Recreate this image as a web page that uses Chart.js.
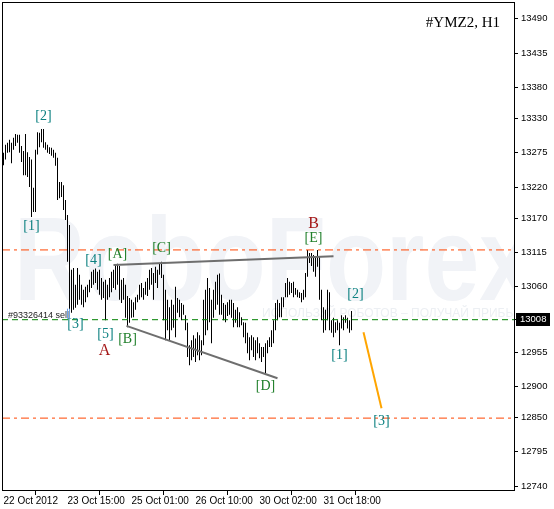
<!DOCTYPE html>
<html lang="en">
<head>
<meta charset="UTF-8" />
<title>#YMZ2, H1</title>
<script src="https://cdn.jsdelivr.net/npm/chart.js"></script>
<style>
  html, body { margin: 0; padding: 0; background: #fff; }
</style>
</head>
<body>
<canvas id="chart" width="554" height="509"></canvas>
<script>
  // H1 bars, one per hour (high / low)
  const highs = [
    13275, 13288, 13291, 13296, 13291, 13299, 13305, 13304, 13304, 13286,
    13278, 13305, 13276, 13268, 13264, 13219, 13280, 13308, 13307, 13313,
    13313, 13292, 13288, 13284, 13283, 13280, 13275, 13267, 13228, 13228,
    13223, 13199, 13175, 13159, 13087, 13090, 13063, 13090, 13079, 13063,
    13055, 13060, 13063, 13071, 13084, 13087, 13089, 13084, 13087, 13074,
    13068, 13071, 13063, 13074, 13084, 13087, 13095, 13097, 13093, 13071,
    13074, 13063, 13045, 13042, 13039, 13035, 13043, 13047, 13063, 13066,
    13058, 13068, 13074, 13087, 13090, 13082, 13092, 13087, 13098, 13100,
    13079, 13055, 13039, 13027, 13039, 13031, 13060, 13042, 13039, 13034,
    13031, 13014, 13002, 12966, 12974, 12982, 12977, 12987, 12982, 12974,
    13039, 13055, 13074, 13058, 13039, 13055, 13068, 13079, 13081, 13047,
    13034, 13031, 13035, 13039, 13039, 13034, 13023, 13027, 13019, 13011,
    13003, 13002, 12986, 12979, 12982, 12979, 12974, 12979, 12969, 12963,
    12963, 12969, 12974, 12979, 12990, 13006, 13034, 13039, 13034, 13043,
    13043, 13066, 13074, 13068, 13066, 13068, 13058, 13055, 13051, 13050,
    13055, 13082, 13119, 13114, 13114, 13111, 13108, 13119, 13108, 13055,
    13027, 13023, 13055, 13051, 13006, 13010, 13003, 13006, 13002, 13014,
    13011, 13014, 13010, 13006, 13021
  ];
  const lows = [
    13255, 13264, 13275, 13276, 13258, 13280, 13286, 13291, 13275, 13260,
    13239, 13239, 13236, 13220, 13172, 13180, 13180, 13272, 13284, 13292,
    13283, 13280, 13275, 13273, 13270, 13267, 13254, 13199, 13202, 13204,
    13183, 13167, 13100, 13020, 13018, 13023, 13026, 13031, 13039, 13031,
    13027, 13035, 13043, 13051, 13058, 13063, 13066, 13055, 13047, 13039,
    13042, 13006, 13039, 13043, 13051, 13058, 13055, 13063, 13039, 13034,
    13039, 13010, 12995, 13002, 13010, 13011, 13023, 13035, 13039, 13043,
    13039, 13047, 13045, 13055, 13063, 13039, 13066, 13058, 13079, 13074,
    13006, 12974, 12990, 12974, 12990, 12994, 12979, 13018, 13011, 13006,
    13015, 12990, 12947, 12934, 12942, 12947, 12939, 12950, 12942, 12950,
    12966, 12982, 12990, 13003, 12969, 13010, 13023, 13031, 13015, 13015,
    13006, 13003, 13013, 13015, 13010, 12995, 13002, 12995, 12995, 12998,
    12979, 12969, 12953, 12942, 12958, 12947, 12942, 12953, 12945, 12939,
    12947, 12921, 12953, 12963, 12963, 12969, 12990, 13006, 13011, 13011,
    13027, 13043, 13043, 13047, 13050, 13043, 13047, 13043, 13042, 13035,
    13039, 13043, 13076, 13098, 13093, 13084, 13076, 13092, 13039, 13006,
    12986, 12990, 13006, 12990, 12986, 12979, 12986, 12990, 12966, 12993,
    12990, 13002, 12993, 12986, 12990
  ];

  const timeTicks = [0, 32, 64, 96, 128, 160];
  const timeLabels = ['22 Oct 2012', '23 Oct 15:00', '25 Oct 01:00', '26 Oct 10:00', '30 Oct 02:00', '31 Oct 18:00'];
  const priceTicks = [13490, 13435, 13380, 13330, 13275, 13220, 13170, 13115, 13060, 13008, 12955, 12900, 12850, 12795, 12740];

  const lastPrice = 13008;
  const orderPrice = 13007;
  const targetLevels = [13119, 12849];
  // [bar, price] end points of the drawn lines
  const triangleTop = [[55, 13095], [165, 13109]];
  const triangleBottom = [[61.5, 12997], [137, 12913]];
  const forecast = [[180, 12987], [189, 12865]];

  const waveText  = ['[2]', '[1]', '[3]', '[4]', '[A]', '[C]', '[5]', 'A', '[B]', '[D]', 'B', '[E]', '[2]', '[1]', '[3]'];
  const waveBar   = [20, 14, 36, 45, 57, 79, 51, 50.5, 62, 131, 155, 155, 176, 168, 189];
  const wavePrice = [13334, 13157, 13000, 13103, 13112, 13121, 12984, 12957, 12976, 12900, 13161, 13137, 13047, 12950, 12844];

  const xMin = -0.75, xMax = 255.25;
  const sans = '"Liberation Sans", Arial, sans-serif';
  const serif = '"Liberation Serif", "Times New Roman", serif';

  function waveColor(t) {
    if (t === 'A' || t === 'B') return '#a31515';
    return /\d/.test(t) ? '#0c8080' : '#1f7f2a';
  }

  const hline = (v, color, dash) => ({
    type: 'line', data: [{x: xMin, y: v}, {x: xMax, y: v}],
    borderColor: color, borderWidth: 1, borderDash: dash, pointRadius: 0, fill: false, order: 0
  });
  const seg = (pts, color) => ({
    type: 'line', data: pts.map(p => ({x: p[0], y: p[1]})),
    borderColor: color, borderWidth: 2, pointRadius: 0, fill: false, order: 0
  });

  const decor = {
    id: 'decor',
    beforeDatasetsDraw(chart) {
      const {ctx, chartArea: a} = chart;
      ctx.save();
      ctx.beginPath();
      ctx.rect(a.left, a.top, a.right - a.left, a.bottom - a.top);
      ctx.clip();
      // faint watermark
      ctx.fillStyle = '#f1f3f7';
      ctx.font = 'bold 118px ' + sans;
      ctx.fillText('RoboForex', 14, 300, 520);
      ctx.fillStyle = '#eceff3';
      ctx.font = '12px ' + sans;
      ctx.fillText('ИСПОЛЬЗУЙ РОБОТОВ – ПОЛУЧАЙ ПРИБЫЛЬ!', 262, 317);
      ctx.restore();
    },
    afterDatasetsDraw(chart) {
      const {ctx, scales: {x, y}} = chart;
      ctx.save();
      ctx.textAlign = 'center';
      ctx.textBaseline = 'middle';
      waveText.forEach((t, i) => {
        ctx.font = (t.length === 1 ? '16px ' : '14px ') + serif;
        ctx.fillStyle = waveColor(t);
        ctx.fillText(t, x.getPixelForValue(waveBar[i]), y.getPixelForValue(wavePrice[i]));
      });
      // order tag
      const oy = y.getPixelForValue(orderPrice);
      ctx.textAlign = 'left';
      ctx.textBaseline = 'alphabetic';
      ctx.font = '9px ' + sans;
      ctx.fillStyle = '#222';
      ctx.fillText('#93326414 sell', 8, oy - 2);
      ctx.fillStyle = '#6ea3e6';
      ctx.fillRect(67, oy - 11, 1, 10);
      ctx.fillRect(69, oy - 11, 1, 10);
      ctx.restore();
    },
    afterDraw(chart) {
      const {ctx, chartArea: a, scales: {y}} = chart;
      ctx.save();
      ctx.strokeStyle = '#000';
      ctx.lineWidth = 1;
      ctx.strokeRect(a.left + 0.5, a.top + 0.5, a.right - a.left, a.bottom - a.top - 1);
      ctx.fillStyle = '#000';
      ctx.font = '15px ' + serif;
      ctx.textAlign = 'right';
      ctx.textBaseline = 'middle';
      ctx.fillText('#YMZ2, H1', 500, 23);
      // last price box
      const py = Math.round(y.getPixelForValue(lastPrice));
      ctx.fillRect(516, py - 6, 34, 13);
      ctx.fillStyle = '#fff';
      ctx.textAlign = 'left';
      ctx.font = '9.5px ' + sans;
      ctx.fillText(String(lastPrice), 520, py + 0.5);
      ctx.restore();
    }
  };

  new Chart(document.getElementById('chart'), {
    type: 'bar',
    data: {
      datasets: [
        {
          type: 'bar',
          data: highs.map((h, i) => ({x: i, y: [lows[i], h]})),
          backgroundColor: '#000',
          barThickness: 1,
          borderWidth: 0,
          inflateAmount: 0,
          order: 5
        },
        hline(targetLevels[0], '#ff4500', [8, 4, 3, 4]),
        hline(targetLevels[1], '#ff4500', [8, 4, 3, 4]),
        hline(orderPrice, '#008000', [6, 4]),
        seg(triangleTop, '#6e6e6e'),
        seg(triangleBottom, '#6e6e6e'),
        seg(forecast, '#ffa500')
      ]
    },
    options: {
      responsive: false,
      animation: false,
      events: [],
      layout: { padding: { left: 2, top: 2, right: 0, bottom: 0 } },
      plugins: { legend: { display: false }, tooltip: { enabled: false } },
      scales: {
        x: {
          type: 'linear',
          min: xMin,
          max: xMax,
          offset: false,
          afterBuildTicks: s => { s.ticks = timeTicks.map(v => ({value: v})); },
          afterFit: s => { s.height = 18; s.paddingLeft = 0; s.paddingRight = 0; },
          ticks: {
            align: 'start', padding: 0, autoSkip: false, maxRotation: 0,
            color: '#000', font: { family: sans, size: 10 },
            callback: (v, i) => timeLabels[i]
          },
          grid: { drawOnChartArea: false, tickLength: 4, color: '#000' },
          border: { display: false }
        },
        y: {
          position: 'right',
          min: 12732,
          max: 13517,
          afterBuildTicks: s => { s.ticks = priceTicks.map(v => ({value: v})); },
          afterFit: s => { s.width = 40; s.paddingTop = 0; s.paddingBottom = 0; },
          ticks: {
            padding: 3, autoSkip: false,
            color: '#000', font: { family: sans, size: 9.5 },
            callback: (v, i) => String(priceTicks[i])
          },
          grid: { drawOnChartArea: false, tickLength: 4, color: '#000' },
          border: { display: false }
        }
      }
    },
    plugins: [decor]
  });
</script>
</body>
</html>
